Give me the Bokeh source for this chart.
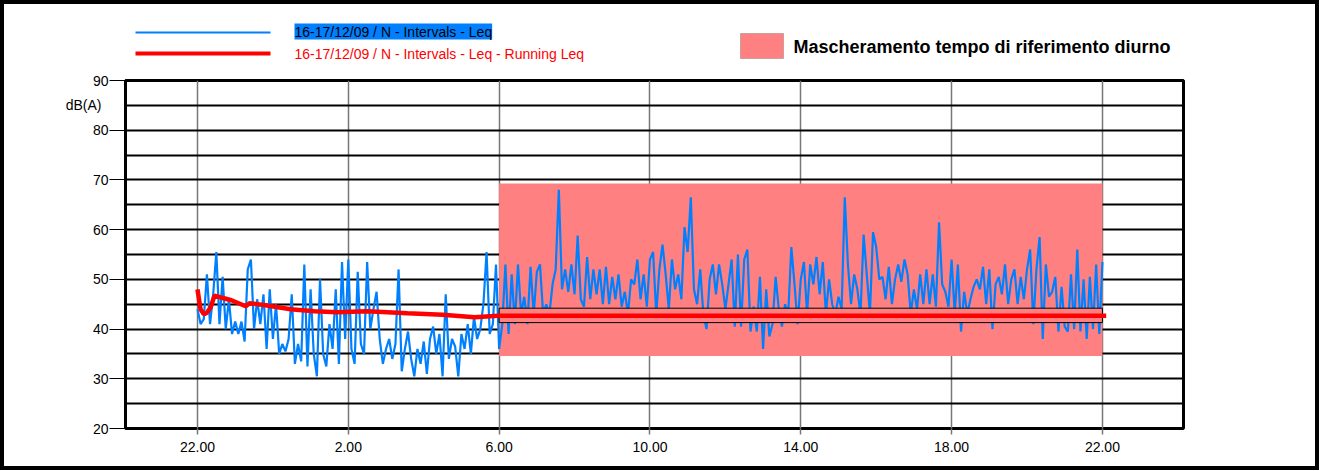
from bokeh.plotting import figure
from bokeh.models import FixedTicker, Label, BoxAnnotation, LinearAxis, Range1d
from bokeh.layouts import column
from bokeh.embed import file_html
from bokeh.resources import INLINE

# ---- data ----
# Leq intervals, 5-minute steps from 22:00 (day 1) to 22:00 (day 2)
leq_minutes = list(range(0, 1441, 5))
leq_night = [44, 41, 42, 51, 41, 47, 55.5, 41, 50.5, 40, 46, 39, 41.5, 39, 41.5, 37.5,
             52, 54, 40, 46, 41, 47, 36, 48, 38, 45, 35, 37, 35.5, 38, 47, 33,
             37, 33.5, 53, 32.5, 48, 35, 30.5, 50, 35, 32.5, 41, 36, 48, 33, 53.5, 38,
             54, 36, 33, 51.5, 37, 35, 53.5, 40, 44, 47.5, 38, 33, 36, 38, 34, 37,
             52, 31.5, 36, 39.5, 34, 30.5, 36, 33, 37.5, 31, 38, 40.5, 35, 39, 30.5, 47,
             34, 38, 36.5, 30.5, 39, 36, 41, 35, 42.5, 38, 40, 45, 55.5, 39, 41, 53]
leq_day = [36, 41, 53, 39, 51, 41, 53, 43, 46.5, 41, 52.5, 43, 51.5, 53, 43, 45,
           43, 49, 52, 68, 48, 52, 47.5, 53, 47, 58.8, 46, 44.5, 54.5, 46, 52, 47,
           52, 45, 52.5, 45, 50.5, 46, 51, 44.5, 47.5, 43, 50, 49, 54, 46, 51, 44.5,
           54, 55.5, 43, 52, 57, 51, 44, 54, 48, 51, 46, 60.5, 55.5, 66.5, 48, 45,
           52, 43, 40, 50, 53, 47, 53, 49, 44, 49, 54, 40.5, 55, 40.5, 54, 56,
           39.5, 44.5, 39.5, 50.5, 36, 48, 38.5, 41, 50.5, 44, 40.5, 45, 43, 56.5, 49, 41,
           50, 53.5, 43, 53, 49, 54.5, 47, 53.5, 43, 50, 45, 43, 46.5, 44, 66.5, 53,
           45, 51, 48, 43, 59, 51, 43, 59.5, 56.5, 50, 50.5, 46, 52.5, 45, 50, 53,
           49.5, 54, 51, 43, 48, 44, 51, 45, 52, 45, 51, 44.5, 61.5, 49, 47.5, 44.5,
           54, 43, 53, 39.5, 47.5, 43, 46, 48.5, 50, 48, 52.5, 45, 52, 40, 49, 50.5,
           47, 53, 45, 50, 52, 45, 50.5, 46, 52, 56, 41, 52, 58.5, 38, 53, 46.5,
           47.5, 50.5, 39.5, 48.5, 40.5, 39.5, 51, 40, 56, 39.5, 50, 38, 50.5, 40, 53, 39,
           53.5]
leq_values = leq_night + leq_day

# Running Leq (hours after 22:00, dB(A))
run_hours = [0, 0.08, 0.17, 0.25, 0.35, 0.45, 0.6, 0.9, 1.28, 1.38, 1.8, 2.47, 3.1,
             3.71, 4.5, 5.57, 6.5, 7.35, 7.97, 24.1]
run_values = [48.0, 44.0, 43.0, 43.3, 44.4, 46.7, 46.4, 45.8, 44.6, 45.2, 44.8, 44.0, 43.6,
              43.4, 43.6, 43.2, 42.9, 42.4, 42.7, 42.7]

# Day-time masking (06:00 - 22:00)
mask_start, mask_end = 8, 24
mask_low, mask_high = 34.6, 69.3
band_low, band_high = 41.3, 44.2

x_ticks = [0, 4, 8, 12, 16, 20, 24]
x_labels = ["22.00", "2.00", "6.00", "10.00", "14.00", "18.00", "22.00"]
y_ticks = [20, 30, 40, 50, 60, 70, 80, 90]
y_grid = [25, 30, 35, 40, 45, 50, 55, 60, 65, 70, 75, 80, 85]
unit_tick = 85
unit_label = "dB(A)"

legend_blue = "16-17/12/09 / N - Intervals - Leq"
legend_red = "16-17/12/09 / N - Intervals - Leq - Running Leq"
legend_mask = "Mascheramento tempo di riferimento diurno"

FONT = "Liberation Sans"
BLUE = "#0080FF"
RED = "#FF0000"
PINK = "#FF8080"

CW, CH = 1311, 462          # content size inside the 4px outer border
LH = 64                     # legend strip height
PH = CH - LH                # plot figure height
FL, FR, FT, FB = 121, 132, 12, 38

# ---------- legend strip ----------
lg = figure(width=CW, height=LH, output_backend="svg", toolbar_location=None,
            x_range=Range1d(0, 1), y_range=Range1d(0, 1),
            min_border_left=FL, min_border_right=FR, min_border_top=0, min_border_bottom=0)
lg.axis.visible = False
lg.grid.visible = False
lg.outline_line_color = None
lg.background_fill_color = "white"
lg.border_fill_color = "white"

def sbox(l, r, b, t, **kw):
    return BoxAnnotation(left=l, right=r, bottom=b, top=t,
                         left_units="screen", right_units="screen",
                         bottom_units="screen", top_units="screen", **kw)

lg.add_layout(sbox(10, 145, 35, 37, fill_color=BLUE, fill_alpha=1, line_color=None))
lg.add_layout(sbox(10, 145, 13, 17, fill_color=RED, fill_alpha=1, line_color=None))
lg.add_layout(Label(x=169, y=37, x_units="screen", y_units="screen", text=legend_blue,
                    text_font=FONT, text_font_size="14px", text_baseline="middle",
                    text_color="black", background_fill_color=BLUE, background_fill_alpha=1))
lg.add_layout(Label(x=169, y=15, x_units="screen", y_units="screen", text=legend_red,
                    text_font=FONT, text_font_size="14px", text_baseline="middle",
                    text_color=RED))
lg.add_layout(sbox(615, 658, 10, 35, fill_color=PINK, fill_alpha=1,
                   line_color="#555555", line_width=1))
lg.add_layout(Label(x=668, y=22, x_units="screen", y_units="screen", text=legend_mask,
                    text_font=FONT, text_font_size="18px", text_font_style="bold",
                    text_baseline="middle", text_color="black"))

# ---------- main plot ----------
p = figure(width=CW, height=PH, output_backend="svg", toolbar_location=None,
           x_range=(-1.909, 26.15), y_range=(20, 90),
           min_border_left=FL, min_border_right=FR, min_border_top=FT, min_border_bottom=FB)
p.background_fill_color = "white"
p.border_fill_color = "white"
p.outline_line_color = "black"
p.outline_line_width = 3

p.xgrid.ticker = FixedTicker(ticks=x_ticks)
p.xgrid.grid_line_color = "#777777"
p.xgrid.grid_line_width = 1.5
p.ygrid.ticker = FixedTicker(ticks=y_grid)
p.ygrid.grid_line_color = "black"
p.ygrid.grid_line_width = 2

p.xaxis.ticker = FixedTicker(ticks=x_ticks)
p.xaxis.major_label_overrides = {t: l for t, l in zip(x_ticks, x_labels)}
p.xaxis.axis_line_color = None
p.xaxis.major_tick_in = 0
p.xaxis.major_tick_out = 6
p.xaxis.major_tick_line_color = "#777777"
p.xaxis.major_tick_line_width = 1.5
p.xaxis.minor_tick_line_color = None
p.xaxis.major_label_standoff = 7
p.xaxis.major_label_text_font = FONT
p.xaxis.major_label_text_font_size = "14px"
p.xaxis.major_label_text_color = "black"

p.yaxis.ticker = FixedTicker(ticks=y_ticks)
p.yaxis.axis_line_color = None
p.yaxis.major_tick_in = 0
p.yaxis.major_tick_out = 16
p.yaxis.major_tick_line_color = "black"
p.yaxis.major_tick_line_width = 1
p.yaxis.minor_tick_line_color = None
p.yaxis.major_label_standoff = 1
p.yaxis.major_label_text_font = FONT
p.yaxis.major_label_text_font_size = "14px"
p.yaxis.major_label_text_color = "black"

unit_axis = LinearAxis(ticker=FixedTicker(ticks=[unit_tick]),
                       major_label_overrides={unit_tick: unit_label},
                       axis_line_color=None, major_tick_line_color=None,
                       minor_tick_line_color=None, major_tick_in=0, major_tick_out=0,
                       major_label_standoff=-12,
                       major_label_text_font=FONT, major_label_text_font_size="14px",
                       major_label_text_color="black")
p.add_layout(unit_axis, "left")

p.quad(left=[mask_start], right=[mask_end], bottom=[mask_low], top=[mask_high],
       fill_color=PINK, line_color=None)

leq_hours = [m / 60 for m in leq_minutes]
p.line(leq_hours, leq_values, line_color=BLUE, line_width=2.2)

p.quad(left=[mask_start], right=[mask_end], bottom=[band_low], top=[band_high],
       fill_color=PINK, line_color="black", line_width=1)

p.line(run_hours, run_values, line_color=RED, line_width=4.5)

layout = column(lg, p, spacing=0, styles={"border": "4px solid black"})

open("out.html", "w").write(file_html(layout, INLINE))
